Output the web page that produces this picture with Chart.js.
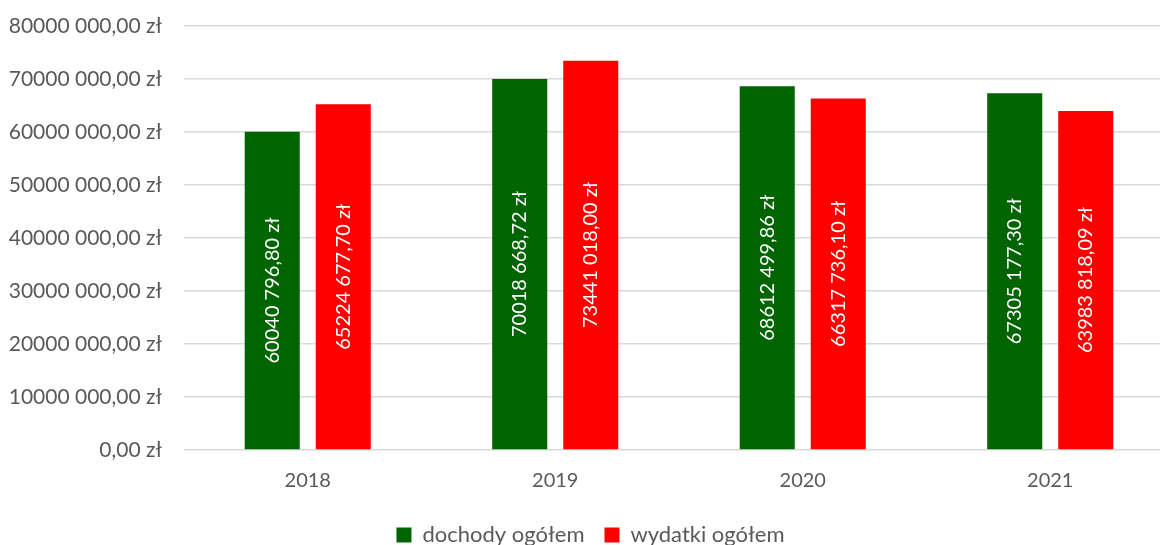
<!DOCTYPE html>
<html>
<head>
<meta charset="utf-8">
<script src="https://cdn.jsdelivr.net/npm/chart.js@4.4.0/dist/chart.umd.min.js"></script>
<style>
  html, body { margin: 0; padding: 0; background: #fff; overflow: hidden; }
  #wrap { width: 1180px; height: 556px; }
</style>
</head>
<body>
<div id="wrap"><canvas id="budgetChart" width="1180" height="556"></canvas></div>
<script>
var years = ["2018", "2019", "2020", "2021"];
var incomeValues = [60040796.80, 70018668.72, 68612499.86, 67305177.30];
var expenseValues = [65224677.70, 73441018.00, 66317736.10, 63983818.09];
var seriesNames = ["dochody ogółem", "wydatki ogółem"];

// "80000 000,00 zł" style - only last group of three split off
function zl(v) {
  var s = v.toFixed(2).replace(".", ",");
  var parts = s.split(",");
  var ip = parts[0];
  if (ip.length > 3) ip = ip.slice(0, ip.length - 3) + " " + ip.slice(-3);
  return ip + "," + parts[1] + " zł";
}

var fontFam = "Lato, 'Open Sans', sans-serif";

var barLabels = {
  id: 'barLabels',
  afterDatasetsDraw: function(chart) {
    var ctx = chart.ctx;
    chart.data.datasets.forEach(function(ds, i) {
      chart.getDatasetMeta(i).data.forEach(function(bar, j) {
        var mid = (bar.y + bar.base) / 2;
        ctx.save();
        ctx.translate(bar.x, mid);
        ctx.rotate(-Math.PI / 2);
        ctx.fillStyle = "#ffffff";
        ctx.font = "20px " + fontFam;
        ctx.textAlign = "center";
        ctx.textBaseline = "middle";
        ctx.fillText(zl(ds.data[j]), 0, 0);
        ctx.restore();
      });
    });
  }
};

var myChart = new Chart(document.getElementById("budgetChart"), {
  type: 'bar',
  data: {
    labels: years,
    datasets: [
      { label: seriesNames[0], data: incomeValues, backgroundColor: "#006400" },
      { label: seriesNames[1], data: expenseValues, backgroundColor: "#ff0000" }
    ]
  },
  options: {
    responsive: false,
    animation: false,
    categoryPercentage: 0.574,
    barPercentage: 0.775,
    layout: { padding: { top: 26, left: 7, right: 6, bottom: 0 } },
    plugins: {
      legend: {
        position: 'bottom',
        labels: {
          boxWidth: 15, boxHeight: 15, color: "#595959",
          font: { size: 22, family: fontFam }, padding: 20
        }
      },
      tooltip: { enabled: false }
    },
    scales: {
      x: {
        grid: { display: false },
        border: { display: false },
        ticks: { color: "#595959", font: { size: 20, family: fontFam }, padding: 11 }
      },
      y: {
        min: 0, max: 80000000,
        afterFit: function(scale) {
          scale.width = 177;
          scale.paddingTop = 0;
          scale.paddingBottom = 0;
        },
        ticks: {
          stepSize: 10000000, color: "#595959",
          font: { size: 21, family: fontFam }, padding: 22,
          callback: function(v) { return zl(v); }
        },
        grid: { color: "#d9d9d9", lineWidth: 1.5, drawTicks: false },
        border: { display: false }
      }
    }
  },
  plugins: [barLabels]
});
</script>
</body>
</html>
